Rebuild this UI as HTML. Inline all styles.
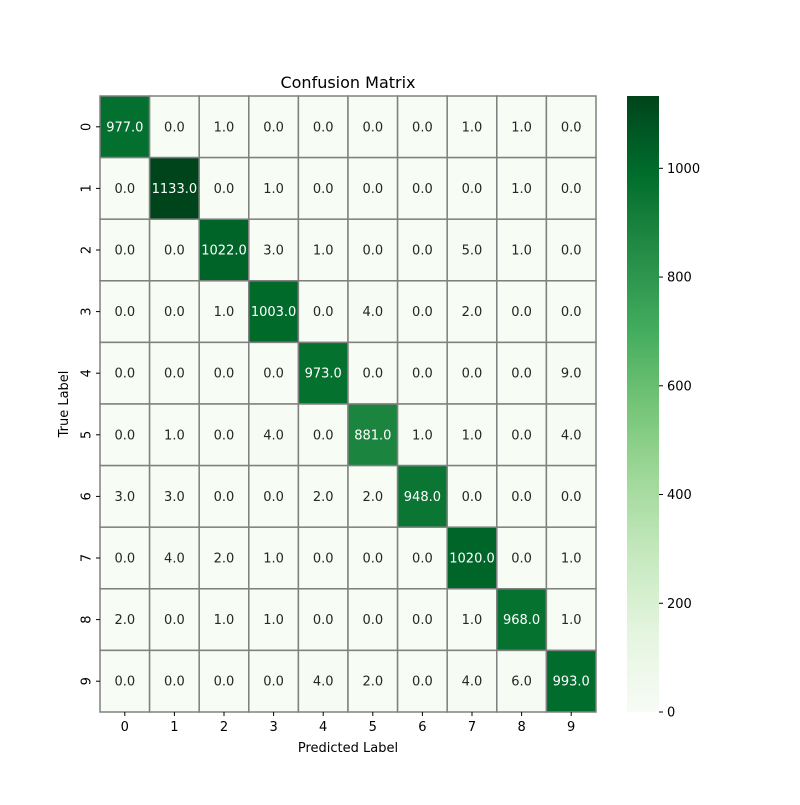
<!DOCTYPE html>
<html><head><meta charset="utf-8"><style>
body{margin:0;background:#fff;}
svg text{font-family:"DejaVu Sans","Liberation Sans",sans-serif;}
</style></head><body>
<svg id="chart" width="800" height="800" xmlns="http://www.w3.org/2000/svg">
<rect width="800" height="800" fill="#fff"/>
<text x="348" y="88" font-size="16" text-anchor="middle">Confusion Matrix</text>
<g id="cells"></g>
<g id="xt"></g><g id="yt"></g>
<text x="348" y="752" font-size="13" text-anchor="middle">Predicted Label</text>
<text x="68" y="404" font-size="13" text-anchor="middle" transform="rotate(-90 68 404)">True Label</text>
<defs><linearGradient id="cg" x1="0" y1="1" x2="0" y2="0">
<stop offset="0" stop-color="#f7fcf5"/><stop offset="0.125" stop-color="#e5f5e0"/><stop offset="0.25" stop-color="#c7e9c0"/><stop offset="0.375" stop-color="#a1d99b"/><stop offset="0.5" stop-color="#74c476"/><stop offset="0.625" stop-color="#41ab5d"/><stop offset="0.75" stop-color="#238b45"/><stop offset="0.875" stop-color="#006d2c"/><stop offset="1" stop-color="#00441b"/></linearGradient></defs>
<rect x="627" y="96" width="32" height="616" fill="url(#cg)"/>
<g id="cbt"></g>
</svg>
<script>
const labels=[0,1,2,3,4,5,6,7,8,9];
const matrix=[
[977,0,1,0,0,0,0,1,1,0],
[0,1133,0,1,0,0,0,0,1,0],
[0,0,1022,3,1,0,0,5,1,0],
[0,0,1,1003,0,4,0,2,0,0],
[0,0,0,0,973,0,0,0,0,9],
[0,1,0,4,0,881,1,1,0,4],
[3,3,0,0,2,2,948,0,0,0],
[0,4,2,1,0,0,0,1020,0,1],
[2,0,1,1,0,0,0,1,968,1],
[0,0,0,0,4,2,0,4,6,993]];
const cbTicks=[0,200,400,600,800,1000];
const vmax=1133;
const X0=100,X1=596,Y0=96,Y1=712;
const cw=(X1-X0)/labels.length,ch=(Y1-Y0)/labels.length;
const stops=["#f7fcf5","#e5f5e0","#c7e9c0","#a1d99b","#74c476","#41ab5d","#238b45","#006d2c","#00441b"];
function hex(h){return [1,3,5].map(i=>parseInt(h.substr(i,2),16));}
function color(v){let t=Math.max(0,Math.min(1,v/vmax))*8;let i=Math.min(7,Math.floor(t)),f=t-i;
const a=hex(stops[i]),b=hex(stops[i+1]);return `rgb(${a.map((c,k)=>Math.round(c+(b[k]-c)*f)).join(',')})`;}
const NS="http://www.w3.org/2000/svg";
function el(tag,attrs,parent,txt){const e=document.createElementNS(NS,tag);for(const k in attrs)e.setAttribute(k,attrs[k]);if(txt!==undefined)e.textContent=txt;parent.appendChild(e);return e;}
const cells=document.getElementById('cells');
matrix.forEach((row,r)=>row.forEach((v,c)=>{
const x=X0+c*cw,y=Y0+r*ch;
const rc=el('rect',{x:x,y:y,width:cw,height:ch,fill:color(v),stroke:'#808080','stroke-width':1.5},cells);


const t=el('text',{x:x+cw/2,y:y+ch/2+4.5,'font-size':13,'text-anchor':'middle',fill:v/vmax>0.5?'#fff':'#262626'},cells,v.toFixed(1));


}));
const xt=document.getElementById('xt'),yt=document.getElementById('yt');
labels.forEach((l,i)=>{
const x=X0+(i+.5)*cw;
el('line',{x1:x,x2:x,y1:Y1,y2:Y1+4,stroke:'#000'},xt);
const a=el('text',{x:x,y:Y1+19,'font-size':13,'text-anchor':'middle'},xt,l);


const y=Y0+(i+.5)*ch;
el('line',{x1:X0-4,x2:X0,y1:y,y2:y,stroke:'#000'},yt);
const b=el('text',{x:X0-14,y:y+4.5,'font-size':13,'text-anchor':'middle',transform:`rotate(-90 ${X0-14} ${y})`},yt,l);


});
const cbt=document.getElementById('cbt');
cbTicks.forEach(v=>{
const y=Y1-(v/vmax)*(Y1-Y0);
el('line',{x1:659,x2:663,y1:y,y2:y,stroke:'#000'},cbt);
const t=el('text',{x:667,y:y+4.5,'font-size':13},cbt,v);


});
</script>
</body></html>
